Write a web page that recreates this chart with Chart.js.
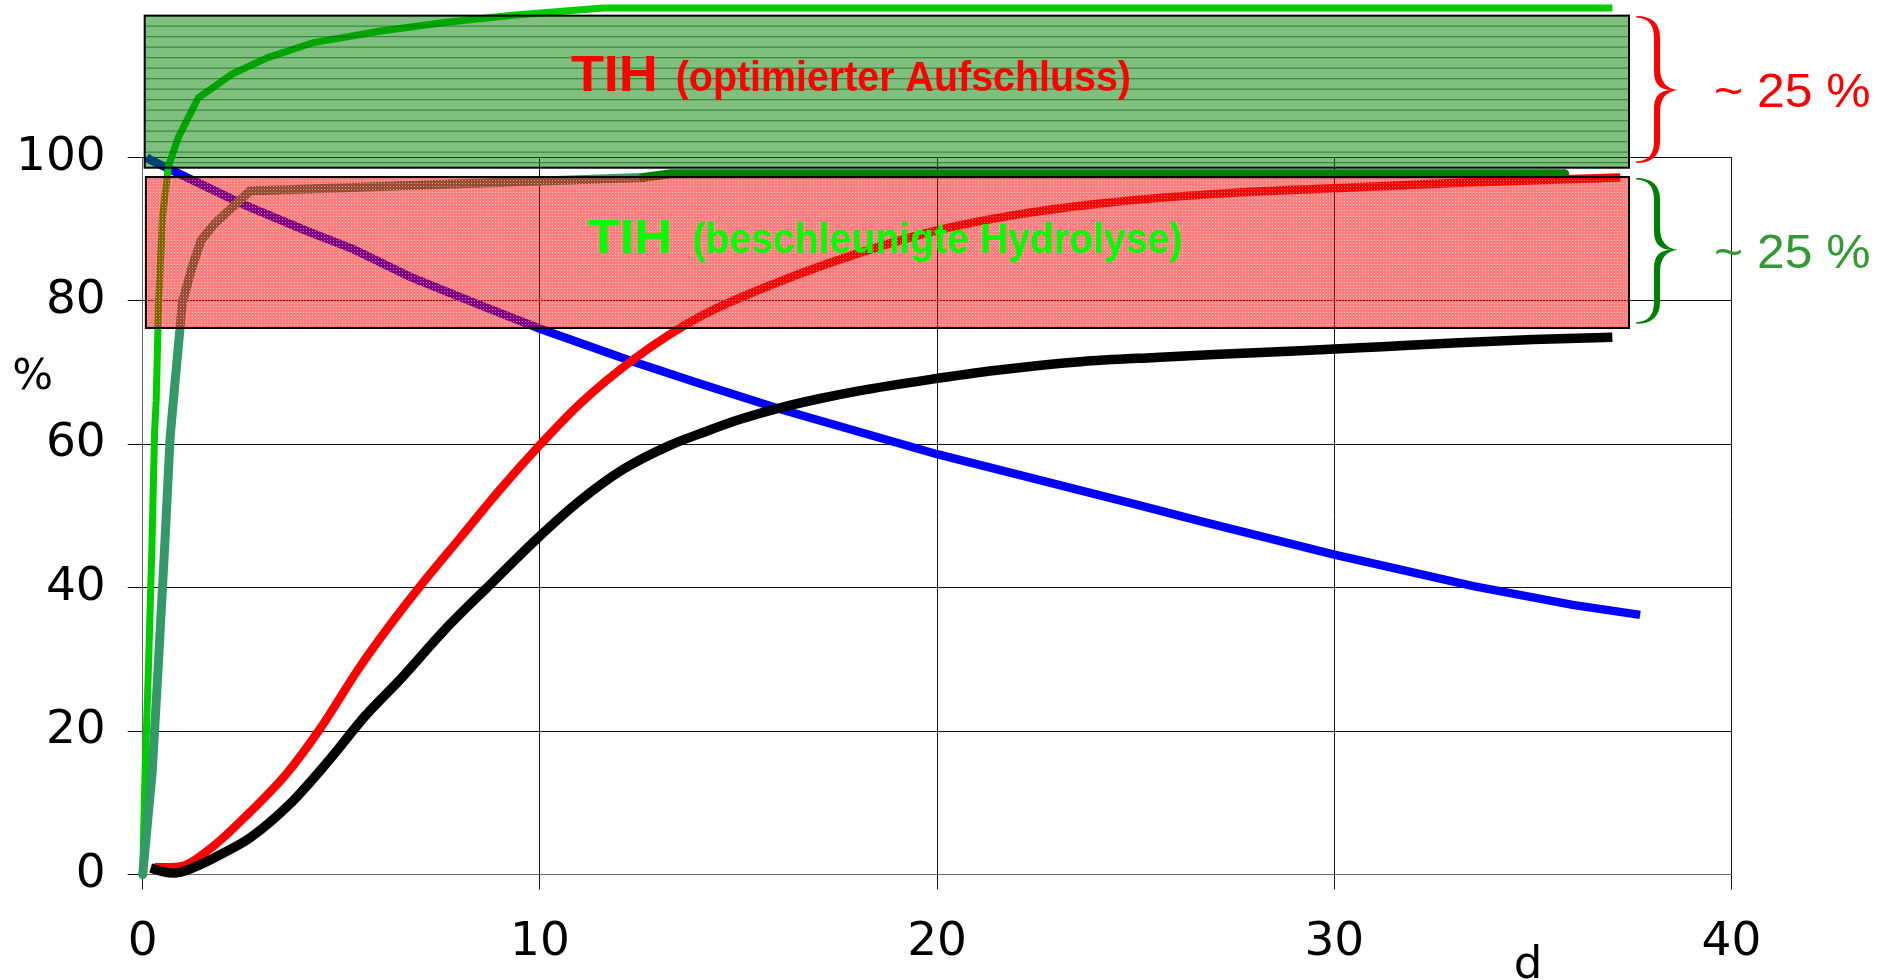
<!DOCTYPE html>
<html lang="de">
<head>
  <meta charset="UTF-8" />
  <title>TIH Abbau</title>
  <script src="https://cdn.jsdelivr.net/npm/chart.js"></script>
  <style>
    html, body { margin: 0; padding: 0; background: #fff; }
    #wrap { width: 1892px; height: 980px; }
  </style>
</head>
<body>
  <div id="wrap"><canvas id="chart" width="1892" height="980"></canvas></div>

  <script>
    // x in Tagen (d), y in %
    const xTicks = [0, 10, 20, 30, 40];
    const yTicks = [0, 20, 40, 60, 80, 100];

    const blackX = [0.2, 0.5, 0.8, 1.25, 2.0, 2.7, 3.7, 4.7, 5.6, 6.5, 7.6, 8.8, 10, 11, 12.1, 13.3, 14, 15, 16, 17, 18, 19.8, 21.5, 23.6, 25.5, 27.4, 29, 31.2, 33, 35, 37];
    const blackY = [0.9, 0.4, 0.2, 0.9, 2.9, 5.1, 9.8, 16.0, 22.1, 27.3, 34.1, 40.7, 47.2, 52.1, 56.5, 59.9, 61.4, 63.4, 65.0, 66.3, 67.4, 69.0, 70.3, 71.5, 72.1, 72.6, 73.0, 73.6, 74.1, 74.6, 74.9];

    const redX = [0.3, 0.9, 1.7, 2.7, 3.6, 4.5, 5.4, 6.2, 7.0, 8.0, 9.0, 10.0, 11.0, 12.4, 14.0, 16.0, 17.9, 20.0, 22.0, 24.0, 27.0, 30.0, 33.0, 37.2];
    const redY = [1.0, 1.1, 3.6, 8.7, 13.9, 20.6, 28.4, 34.6, 40.3, 47.0, 53.7, 59.9, 65.6, 72.0, 77.7, 82.6, 86.4, 89.8, 92.0, 93.5, 94.9, 95.7, 96.4, 97.2];

    const blueX = [0.1, 0.2, 2.5, 4.1, 5.3, 6.75, 8.4, 10, 12.3, 14, 16.1, 20, 25, 26.6, 30, 33.5, 36, 37.7];
    const blueY = [100, 99.6, 93.5, 89.8, 87.2, 83.3, 79.6, 76.1, 71.6, 68.5, 64.8, 58.6, 51.6, 49.3, 44.6, 40.2, 37.6, 36.2];

    const greenX = [0, 0.06, 0.15, 0.23, 0.3, 0.34, 0.4, 0.5, 0.65, 0.9, 1.4, 2.25, 3.15, 4.3, 6.0, 7.6, 9.3, 11.6, 37.0];
    const greenY = [0, 14.4, 29.8, 45.4, 61.8, 66.1, 79.8, 91.8, 98.8, 102.8, 108.3, 111.6, 113.9, 116.0, 117.6, 118.8, 119.8, 120.8, 120.8];

    const tealX = [0, 0.24, 0.4, 0.55, 0.69, 0.8, 1.0, 1.25, 1.47, 1.8, 2.25, 2.7, 12.6, 13.3, 35.8];
    const tealY = [0, 14.4, 29.9, 45.4, 60.9, 67.8, 79.8, 84.8, 88.4, 90.7, 93.0, 95.3, 97.2, 97.7, 97.7];

    const pts = (xs, ys) => xs.map((x, i) => ({ x: x, y: ys[i] }));

    // Rahmen, Klammern und Texte (in Achseneinheiten)
    const boxes = [
      { x0: 0.05, x1: 37.42, yTop: 119.75, yBot: 98.55, fill: 'rgba(0,128,0,0.5)', stripes: true },
      { x0: 0.08, x1: 37.42, yTop: 97.25, yBot: 76.2, fill: 'rgba(255,0,0,0.5)', dots: true }
    ];
    const braces = [
      { x0: 37.6, x1: 38.65, yTop: 119.7, yBot: 99.2, yMid: 109.4, color: '#ff0000' },
      { x0: 37.6, x1: 38.65, yTop: 97.1, yBot: 76.8, yMid: 87.1, color: '#008000' }
    ];
    const labels = [
      { text: 'TIH', x0: 10.78, x1: 12.97, y: 109.3, font: 'bold 50px "Liberation Sans"', color: '#ff0000' },
      { text: '(optimierter Aufschluss)', x0: 13.42, x1: 24.88, y: 109.3, font: 'bold 43px "Liberation Sans"', color: '#ff0000' },
      { text: 'TIH', x0: 11.2, x1: 13.33, y: 86.6, font: 'bold 49px "Liberation Sans"', color: '#00ff00' },
      { text: '(beschleunigte Hydrolyse)', x0: 13.84, x1: 26.18, y: 86.6, font: 'bold 43px "Liberation Sans"', color: '#00ff00' },
      { text: '~ 25 %', x0: 39.56, x1: 43.5, y: 107.0, font: '48px "Liberation Sans"', color: '#ff0000' },
      { text: '~ 25 %', x0: 39.56, x1: 43.5, y: 84.6, font: '48px "Liberation Sans"', color: '#339933' }
    ];

    function fitText(ctx, str, x, y, w, font, color) {
      ctx.font = font;
      const m = ctx.measureText(str).width;
      ctx.save();
      ctx.translate(x, y);
      ctx.scale(w / m, 1);
      ctx.fillStyle = color;
      ctx.textAlign = 'left';
      ctx.textBaseline = 'alphabetic';
      ctx.fillText(str, 0, 0);
      ctx.restore();
    }

    // curly brace, thick stems and thin ends
    function drawBrace(ctx, x0, x1, yt, yb, ym, color) {
      const xs = x0 + (x1 - x0) * 0.5;
      const r = 22, hw = 3;
      ctx.save();
      ctx.beginPath();
      ctx.moveTo(x0, yt);
      ctx.quadraticCurveTo(xs + hw, yt, xs + hw, yt + r);
      ctx.lineTo(xs + hw, ym - r);
      ctx.quadraticCurveTo(xs + hw, ym - 2, x1, ym);
      ctx.quadraticCurveTo(xs + hw, ym + 2, xs + hw, ym + r);
      ctx.lineTo(xs + hw, yb - r);
      ctx.quadraticCurveTo(xs + hw, yb, x0, yb);
      ctx.lineTo(x0, yb - 1.5);
      ctx.quadraticCurveTo(xs - hw, yb - 2, xs - hw, yb - r);
      ctx.lineTo(xs - hw, ym + r - 4);
      ctx.quadraticCurveTo(xs - hw, ym, x1 - 6, ym);
      ctx.quadraticCurveTo(xs - hw, ym, xs - hw, ym - r + 4);
      ctx.lineTo(xs - hw, yt + r);
      ctx.quadraticCurveTo(xs - hw, yt + 2, x0, yt + 1.5);
      ctx.closePath();
      ctx.fillStyle = color;
      ctx.fill();
      ctx.restore();
    }

    // white dot texture for the red box
    const dotCanvas = document.createElement('canvas');
    dotCanvas.width = 3; dotCanvas.height = 3;
    const dctx = dotCanvas.getContext('2d');
    dctx.fillStyle = 'rgba(255,255,255,0.5)';
    dctx.fillRect(0, 0, 1, 1);

    const overlayPlugin = {
      id: 'overlay',
      afterDatasetsDraw(chart) {
        const ctx = chart.ctx;
        const xs = chart.scales.x, ys = chart.scales.y;
        const px = v => xs.getPixelForValue(v);
        const py = v => ys.getPixelForValue(v);

        boxes.forEach(b => {
          const l = px(b.x0), r = px(b.x1), t = py(b.yTop), bt = py(b.yBot);
          ctx.save();
          ctx.fillStyle = b.fill;
          ctx.fillRect(l, t, r - l, bt - t);
          if (b.stripes) {
            ctx.strokeStyle = 'rgba(0,100,0,0.55)';
            ctx.lineWidth = 1.3;
            for (let y = t + 10.5; y < bt - 2; y += 10.5) {
              ctx.beginPath();
              ctx.moveTo(l, y);
              ctx.lineTo(r, y);
              ctx.stroke();
            }
          }
          if (b.dots) {
            ctx.fillStyle = ctx.createPattern(dotCanvas, 'repeat');
            ctx.fillRect(l, t, r - l, bt - t);
          }
          ctx.strokeStyle = '#000';
          ctx.lineWidth = 2;
          ctx.strokeRect(l, t, r - l, bt - t);
          ctx.restore();
        });

        braces.forEach(b => drawBrace(ctx, px(b.x0), px(b.x1), py(b.yTop), py(b.yBot), py(b.yMid), b.color));

        labels.forEach(t => fitText(ctx, t.text, px(t.x0), py(t.y), px(t.x1) - px(t.x0), t.font, t.color));

        // Achsenbeschriftungen
        ctx.save();
        ctx.fillStyle = '#000';
        ctx.font = '43px "DejaVu Sans"';
        ctx.textAlign = 'center';
        ctx.textBaseline = 'middle';
        ctx.fillText('%', px(-2.77), py(69.2));
        ctx.font = '45px "DejaVu Sans"';
        ctx.textBaseline = 'alphabetic';
        ctx.fillText('d', px(34.88), py(-14.4));
        ctx.restore();
      }
    };

    const tickFont = { family: 'DejaVu Sans', size: 47 };

    new Chart(document.getElementById('chart'), {
      type: 'line',
      data: {
        datasets: [
          { label: 'schwarz', data: pts(blackX, blackY), borderColor: '#000000', borderWidth: 9.5, cubicInterpolationMode: 'monotone' },
          { label: 'rot', data: pts(redX, redY), borderColor: '#ff0000', borderWidth: 8.5, cubicInterpolationMode: 'monotone' },
          { label: 'blaugruen', data: pts(tealX, tealY), borderColor: '#339966', borderWidth: 9, tension: 0,
            borderCapStyle: 'round',
            segment: { borderColor: c => c.p0.parsed.x >= 12.6 ? '#008000' : undefined } },
          { label: 'gruen', data: pts(greenX, greenY), borderColor: '#00cc00', borderWidth: 7, tension: 0 },
          { label: 'blau', data: pts(blueX, blueY), borderColor: '#0000ff', borderWidth: 8.5, tension: 0 }
        ]
      },
      options: {
        responsive: false,
        animation: false,
        devicePixelRatio: 1,
        layout: { padding: { top: 157.3, right: 160.5, left: 0, bottom: 0 } },
        elements: { point: { radius: 0 }, line: { fill: false } },
        datasets: { line: { clip: false } },
        plugins: { legend: { display: false }, tooltip: { enabled: false } },
        scales: {
          x: {
            type: 'linear', min: 0, max: 40,
            afterBuildTicks: s => { s.ticks = xTicks.map(v => ({ value: v })); },
            afterFit: s => { s.height = 105.5; },
            ticks: { color: '#000', font: tickFont, padding: 25, maxRotation: 0 },
            grid: { color: '#111', lineWidth: 1, tickLength: 15 },
            border: { color: '#666', width: 1 }
          },
          y: {
            min: 0, max: 100,
            afterBuildTicks: s => { s.ticks = yTicks.map(v => ({ value: v })); },
            afterFit: s => { s.width = 142.7; },
            ticks: { color: '#000', font: tickFont, padding: 22 },
            grid: { color: '#111', lineWidth: 1, tickLength: 15 },
            border: { color: '#666', width: 1 }
          }
        }
      },
      plugins: [overlayPlugin]
    });
  </script>
</body>
</html>
